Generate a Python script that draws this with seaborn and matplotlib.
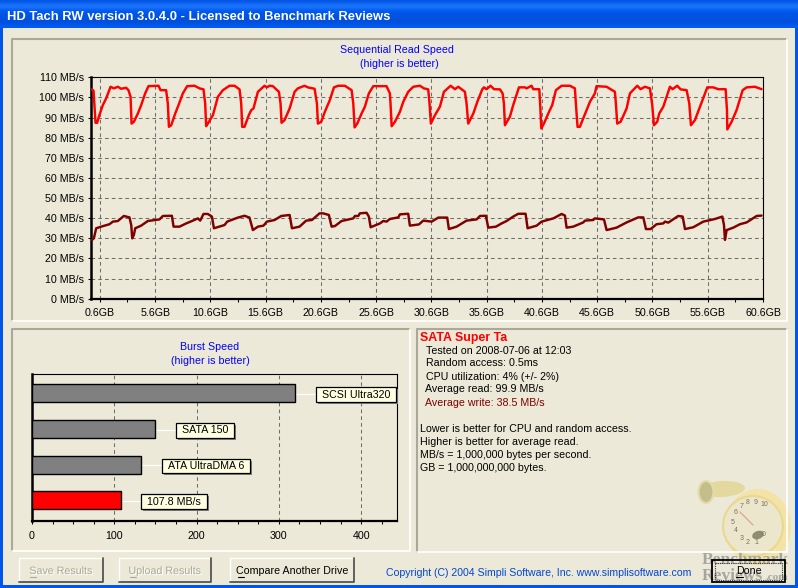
import numpy as np
import pandas as pd
import seaborn as sns
import matplotlib.pyplot as plt
from matplotlib.patches import Rectangle, Ellipse, Circle
from matplotlib.lines import Line2D
from matplotlib.transforms import IdentityTransform
from matplotlib import patheffects as pe

# read speed, GB / MB/s
read_gb = [-0.12, 0.03, 0.21, 0.36, 0.51, 0.87, 1.17, 1.57, 1.87, 2.23, 2.53, 2.98, 3.19, 3.38, 3.47,
           3.68, 4.04, 4.34, 4.70, 5.0, 5.91, 6.09, 6.6, 6.75, 6.85,
           7.06, 7.42, 7.72, 8.11, 8.5, 9.17, 9.62, 9.98, 10.13, 10.22,
           10.37, 10.83, 11.28, 11.73, 12.33, 12.79, 13.24, 13.39, 13.48,
           13.69, 14.08, 14.3, 14.5, 14.9, 15.5, 15.71, 15.95, 16.25, 16.8, 16.95, 17.04,
           17.31, 17.77, 18.22, 18.52, 19.12, 19.42, 20.03, 20.24, 20.33,
           20.63, 20.96, 21.41, 21.78, 22.17, 22.77, 23.38, 23.53, 23.65,
           23.89, 24.28, 24.58, 24.94, 25.34, 26.54, 26.84, 26.9, 27.0,
           27.3, 27.75, 28.05, 28.5, 28.96, 29.56, 29.92, 30.31, 30.43, 30.55,
           30.92, 31.37, 31.73, 32.34, 32.73, 33.03, 33.63, 33.78, 33.93,
           34.39, 34.75, 35.2, 35.35, 35.59, 35.95, 36.26, 36.8, 37.04, 37.16, 37.25,
           37.7, 38.0, 38.52, 39.06, 39.21, 39.66, 39.81, 40.36, 40.45, 40.54,
           40.78, 41.17, 41.53, 41.86, 42.38, 43.13, 43.58, 43.67, 43.82,
           44.03, 44.34, 44.94, 45.39, 45.54, 46.45, 47.2, 47.29, 47.41,
           47.72, 48.26, 48.56, 49.22, 49.53, 49.92, 50.37, 50.58, 50.73,
           51.03, 51.21, 51.58, 52.18, 52.42, 52.84, 53.15, 53.69, 53.93, 54.08,
           54.44, 54.9, 55.35, 55.56, 56.1, 56.55, 57.22, 57.34, 57.37,
           57.76, 58.21, 58.76, 59.12, 59.87, 60.47]
read_speed = [104, 103.3, 87.4, 87.4, 90.4, 96.2, 99.5, 105.3, 104.5, 105.3, 104.3, 104.8, 103.6, 100.3, 87,
              87.9, 92, 96.2, 102, 105.6, 105.8, 103.6, 103.6, 97, 85.4,
              86.2, 92, 96.2, 102, 105.6, 105.8, 104.5, 104, 97, 85.7,
              87, 91.2, 100.3, 103.6, 105.8, 105.8, 104, 97, 85.4,
              85.4, 91.2, 93.7, 94.5, 102.8, 105.8, 105, 105.8, 105.6, 102.8, 97, 87.4,
              88.7, 94.5, 102.8, 104.5, 105.8, 105, 104.3, 97, 87,
              87.9, 92.9, 98.7, 105, 105.8, 105.8, 103.6, 97, 85.1,
              87, 92, 95.4, 102, 105.6, 105.6, 102, 97, 85.7,
              87.9, 92.9, 97.8, 102.8, 105.3, 105.8, 104.5, 104, 97, 87,
              91.2, 95.4, 102.8, 105.8, 104.1, 105.3, 102.8, 97, 87,
              92, 97.8, 104, 105, 104.1, 105.8, 104.1, 104, 102, 97, 86.2,
              90.4, 96.2, 105, 105, 104.5, 105.8, 104.1, 104.1, 95.4, 84.6,
              87, 92, 96.2, 103.6, 105.8, 105.8, 104.5, 97, 85.4,
              85.4, 89.6, 97.8, 102, 105.6, 105.3, 102.8, 97, 87,
              87.9, 94.5, 102, 105.8, 104.1, 105.3, 104.5, 96.2, 86.2,
              87.9, 92, 95.4, 105.3, 104.1, 105.8, 104, 103.6, 97, 86.2,
              88.7, 95.4, 102, 105, 105, 104.1, 104.1, 93.7, 84.1,
              87.9, 93.7, 103.6, 105, 105.3, 104.1]

# write speed
write_gb = [-0.12, 0.06, 0.27, 0.72, 1.47, 1.78, 2.23, 2.77, 3.28, 3.44, 3.53, 3.68, 3.8, 4.34, 4.94, 6.0, 6.3,
            7.12, 7.27, 7.81, 8.41, 9.02, 9.47, 9.68, 9.98, 10.37, 10.74, 10.92, 11.88, 12.12, 13.09, 13.69,
            14.14, 14.45, 14.9, 15.41, 15.71, 16.41, 17.01, 17.77, 17.98, 18.67, 19.27, 19.79, 20.48,
            20.81, 21.32, 21.57, 21.87, 22.47, 23.53, 23.68, 23.98, 24.13, 24.73, 24.94, 25.1, 25.94, 26.24,
            26.54, 26.84, 27.6, 27.75, 28.5, 28.65, 29.47, 29.86, 30.62, 31.22, 32.03, 32.18, 32.88, 33.78,
            34.69, 34.99, 35.53, 35.74, 36.44, 36.95, 37.4, 38.0, 38.46, 39.12, 39.3, 40.12, 40.57, 41.63,
            42.38, 42.68, 42.83, 43.43, 44.34, 44.49, 45.24, 45.39, 46.21, 46.45, 47.35, 48.26, 49.31, 49.77,
            50.01, 50.43, 50.97, 51.58, 51.73, 52.03, 52.93, 53.33, 53.54, 54.29, 55.2, 56.25, 56.92, 57.07,
            57.16, 57.31, 57.91, 58.51, 59.12, 60.02, 60.47]
write_speed = [29.2, 30, 35, 35.8, 37, 38.3, 38.6, 41.1, 40.4, 36.6, 30, 31.7, 35, 36.3, 38.6, 39.4, 41.1,
               41.2, 35.8, 35.8, 37.4, 38.8, 39.9, 38.8, 42.1, 42.1, 40.8, 35, 36.6, 38.3, 40.3, 41.2,
               40.3, 34.1, 35.8, 36.3, 38.3, 39.1, 41.1, 41.6, 35, 35.8, 38.8, 39.1, 42.4,
               42.4, 41.6, 35.8, 36.1, 38.6, 39.9, 41.1, 41.1, 42.4, 42.7, 40.8, 35.5, 37.4, 38.6,
               38.3, 39.6, 40.4, 41.9, 42.2, 36.3, 36.9, 38.8, 38.3, 40.3, 40.3, 34.6, 35.8, 38.8,
               39.4, 41.1, 41.2, 35.3, 35.8, 37.4, 38.6, 40.8, 42.2, 42.2, 35, 36.3, 38.3, 39.9,
               42.1, 41.3, 35.3, 35.8, 37.9, 38.8, 39.1, 39.9, 39.4, 34.1, 35.3, 37.9, 40.4, 40.4,
               34.6, 34.6, 37, 37.4, 38.3, 37.8, 41.1, 40.8, 34.6, 35.5, 38.3, 39.6, 40.8, 36.6,
               29.2, 34.1, 35.3, 37, 37.9, 41.1, 41.3]

speed_ticks = list(range(0, 111, 10))
gb_ticks = [0.6 + 5 * i for i in range(13)]

burst_names = ['SCSI Ultra320', 'SATA 150', 'ATA UltraDMA 6', '107.8 MB/s']
burst_values = [320, 150, 133, 107.8]
burst_ticks = [0, 100, 200, 300, 400]

info_lines = ['Tested on 2008-07-06 at 12:03', 'Random access: 0.5ms', 'CPU utilization: 4% (+/- 2%)',
              'Average read: 99.9 MB/s']
note_lines = ['Lower is better for CPU and random access.', 'Higher is better for average read.',
              'MB/s = 1,000,000 bytes per second.', 'GB = 1,000,000,000 bytes.']

FACE = '#ECE9D8'
FONT = 'Liberation Sans'
SIZE = 7.7
GRID = '#6E6E6E'
W, H = 798, 588

sns.set_theme(style='white')
plt.rcParams['font.family'] = [FONT, 'DejaVu Sans']
plt.rcParams['font.size'] = SIZE

fig = plt.figure(figsize=(W / 100, H / 100), dpi=100, facecolor=FACE)


def px_axes(left, top, right, bottom):
    return fig.add_axes([left / W, 1 - bottom / H, (right - left) / W, (bottom - top) / H])


# window chrome, drawn in pixels
bg = fig.add_axes([0, 0, 1, 1], zorder=0)
bg.set_xlim(0, W)
bg.set_ylim(H, 0)
bg.axis('off')
bg.add_patch(Rectangle((0, 0), W, H, fc=FACE, ec='none'))
bar_colors = np.array([[0.0, 0.33, 0.90], [0.15, 0.50, 1.0], [0.0, 0.36, 0.95], [0.0, 0.33, 0.90],
                       [0.0, 0.33, 0.88], [0.0, 0.30, 0.85], [0.0, 0.36, 0.95]])
bg.imshow(bar_colors[:, None, :], extent=(0, W, 28, 0), aspect='auto', interpolation='bicubic', zorder=1)
bg.set_xlim(0, W)
bg.set_ylim(H, 0)
for rect in [(0, 28, 3, H - 28), (W - 3, 28, 3, H - 28), (0, H - 3, W, 3)]:
    bg.add_patch(Rectangle(rect[:2], rect[2], rect[3], fc='#0055EA', ec='none', zorder=2))
bg.text(7, 17, 'HD Tach RW version 3.0.4.0 - Licensed to Benchmark Reviews', color='white',
        fontsize=9.33, fontweight='bold', va='center', zorder=3)


def sunken(left, top, right, bottom):
    bg.add_line(Line2D([left, left, right], [bottom, top, top], color='#ACA899', lw=1.5, zorder=2))
    bg.add_line(Line2D([left, right, right], [bottom, bottom, top], color='white', lw=1.2, zorder=2))


sunken(12, 38.5, 787, 321)
sunken(12, 328.5, 410, 551)
sunken(417, 328.5, 787, 552)


def button(left, top, right, bottom, label, color, under):
    bg.add_patch(Rectangle((left, top), right - left, bottom - top, fc=FACE, ec='none', zorder=2))
    bg.add_line(Line2D([left, left, right], [bottom, top, top], color='white', lw=1, zorder=3))
    bg.add_line(Line2D([left, right, right], [bottom, bottom, top], color='#555555', lw=1.3, zorder=3))
    t = bg.text((left + right) / 2, (top + bottom) / 2 + 1, label, color=color, ha='center', va='center', zorder=5)
    if color != 'black':
        t.set_path_effects([pe.withSimplePatchShadow(offset=(0.8, -0.8), shadow_rgbFace='white', alpha=1)])
    bg.add_line(Line2D(under, [(top + bottom) / 2 + 6.5] * 2, color=color, lw=0.8, zorder=5))


button(19, 558, 103, 582, 'Save Results', '#ACA899', (30, 36))
button(119, 558, 211, 582, 'Upload Results', '#ACA899', (130, 136))
button(230, 558, 354, 582, 'Compare Another Drive', 'black', (238, 244))
bg.text(386, 572.7, 'Copyright (C) 2004 Simpli Software, Inc. www.simplisoftware.com', color='#0046D5',
        fontsize=7.55, va='center', zorder=3)

# report text
bg.text(419.5, 338, 'SATA Super Ta', color='#FF0000', fontweight='bold', fontsize=8.9, va='center', zorder=3)
for i, line in enumerate(info_lines):
    bg.text(425.5 if i < 3 else 425, 350.5 + i * 13, line, color='black', va='center', zorder=3)
bg.text(425, 403, 'Average write: 38.5 MB/s', color='#800000', va='center', zorder=3)
for i, line in enumerate(note_lines):
    bg.text(419.5, 429 + i * 13, line, color='black', va='center', zorder=3)

# gauge picture behind the report
bg.add_patch(Ellipse((758, 527), 66, 76, fc='#F3E3A6', ec='none', zorder=1.5))
bg.add_patch(Circle((753, 526), 30, fc='#ECE6CC', ec='#E9D88E', lw=1.5, zorder=1.6))
bg.add_patch(Ellipse((722, 489), 46, 16, angle=-3, fc='#E3D89E', ec='none', zorder=1.4))
bg.add_patch(Ellipse((706, 492), 15, 22, fc='#C4BE8C', ec='#E3DCA8', lw=1.5, zorder=1.6))
bg.add_patch(Ellipse((758, 535), 12, 8, angle=-20, fc='#8F8C6F', ec='none', zorder=1.7))
bg.add_line(Line2D([740, 753], [512, 525], color='#D9A9A0', lw=1, zorder=1.7))
gauge_nums = ['0', '1', '2', '3', '4', '5', '6', '7', '8', '9', '10']
gauge_x = [764, 756, 748, 742, 736, 733, 736, 742, 748, 756, 764]
gauge_y = [535, 543, 543, 538, 531, 522, 513, 506, 502, 502, 505]
for num, gx, gy in zip(gauge_nums, gauge_x, gauge_y):
    bg.text(gx, gy, num, fontsize=5, color='#77745C', ha='center', va='center', zorder=1.8)
bg.text(702, 560, 'Benchmark', family='Liberation Serif', fontweight='bold', fontsize=12.5, color='#A6A6A0',
        va='center', zorder=1.9)
bg.text(702, 576, 'Reviews', family='Liberation Serif', fontweight='bold', fontsize=12.5, color='#A6A6A0',
        va='center', zorder=1.9)
bg.text(765, 578, '.com', family='Liberation Serif', fontweight='bold', fontsize=8, color='#A6A6A0',
        va='center', zorder=1.9)
bg.add_patch(Rectangle((712, 560), 73, 22, fc='none', ec='black', lw=1.3, zorder=3))
bg.add_patch(Rectangle((715, 562.5), 67, 17, fc='none', ec='#333333', lw=0.8, ls=(0, (1, 1)), zorder=3))
bg.text(748.5, 571, 'Done', color='black', ha='center', va='center', zorder=4)
bg.add_line(Line2D([736, 743], [576.5, 576.5], color='black', lw=0.8, zorder=4))

# sequential read chart
ax = px_axes(91, 77.3, 763, 298.7)
ax.patch.set_alpha(0)
sns.lineplot(x=read_gb, y=read_speed, color='#FF0000', lw=1.75, sort=False, estimator=None, ax=ax, zorder=4)
sns.lineplot(x=write_gb, y=write_speed, color='#800000', lw=1.75, sort=False, estimator=None, ax=ax, zorder=3)
ax.set_xlim(-0.2, 60.6)
ax.set_ylim(0, 110)
ax.set_yticks(speed_ticks)
ax.set_yticklabels([f'{v} MB/s' for v in speed_ticks])
ax.set_xticks(gb_ticks)
ax.set_xticklabels([f'{v:.1f}GB' for v in gb_ticks])
ax.set_xticks([v + 2.5 for v in gb_ticks[:-1]], minor=True)
ax.grid(True, which='major', color=GRID, ls=(0, (3.5, 3)), lw=0.75)
ax.set_axisbelow(True)
ax.tick_params(axis='y', length=2.2, width=0.75, color='black', pad=3, labelsize=SIZE, labelcolor='black', left=True)
ax.tick_params(axis='x', length=2.5, width=0.75, color='black', pad=4.5, labelsize=SIZE, labelcolor='black', bottom=True)
ax.tick_params(axis='x', which='minor', length=2, width=0.75, color='black', bottom=True)

bg.text(397, 50, 'Sequential Read Speed', color='#0000FF', ha='center', va='center', zorder=3)
bg.text(399, 64, '(higher is better)', color='#0000FF', ha='center', va='center', zorder=3)

# burst chart
burst = pd.DataFrame({'name': burst_names, 'speed': burst_values})
ax2 = px_axes(32, 374, 397, 521)
ax2.patch.set_alpha(0)
sns.barplot(data=burst, x='speed', y='name', hue='name', orient='h', dodge=False, legend=False, width=0.504,
            saturation=1, palette=['#808080', '#808080', '#808080', '#FF0000'], edgecolor='black', linewidth=1,
            ax=ax2, zorder=3)
ax2.set_xlim(0, 443.5)
ax2.set_ylim(3.58, -0.54)
ax2.set_xlabel('')
ax2.set_ylabel('')
ax2.set_yticks([])
ax2.set_xticks(burst_ticks)
ax2.set_xticks(np.arange(0, 430, 25), minor=True)
ax2.xaxis.grid(True, which='major', color=GRID, ls=(0, (3.5, 3)), lw=0.75)
ax2.set_axisbelow(True)
ax2.tick_params(axis='x', length=2.5, width=0.75, color='black', pad=5, labelsize=SIZE, labelcolor='black', bottom=True)
ax2.tick_params(axis='x', which='minor', length=2, width=0.75, color='black', bottom=True)

# tooltip boxes sized from the rendered label, in display pixels
renderer = fig.canvas.get_renderer()
for pos, (name, value) in enumerate(zip(burst_names, burst_values)):
    ax2.plot([value, value + 25], [pos + 0.02, pos + 0.02], color='white', lw=0.8, zorder=2.5)
    label = ax2.text(value + 25, pos + 0.04, name, color='black', va='center', ha='left', zorder=7)
    left, yc = ax2.transData.transform((value + 25, pos + 0.04))
    width = label.get_window_extent(renderer).width + 12
    label.set_position(ax2.transData.inverted().transform((left + 6, yc)))
    for dx, fc, ec, z in [(2, '#808080', 'none', 5), (0, '#FFFFE1', 'black', 6)]:
        ax2.add_patch(Rectangle((left + dx, yc - 7.3 - dx), width, 14.6, transform=IdentityTransform(),
                                fc=fc, ec=ec, lw=0.9, zorder=z, clip_on=False))

bg.text(210, 347, 'Burst Speed', color='#0000FF', ha='center', va='center', zorder=3)
bg.text(210, 361, '(higher is better)', color='#0000FF', ha='center', va='center', zorder=3)

for a in [ax, ax2]:
    for side in ['top', 'right']:
        a.spines[side].set_linewidth(0.8)
        a.spines[side].set_color('black')
    a.spines['left'].set_linewidth(1.8)
    a.spines['left'].set_color('black')
    a.spines['bottom'].set_linewidth(1.6)
    a.spines['bottom'].set_color('black')

fig.savefig('out.png', dpi=100, facecolor=FACE)
